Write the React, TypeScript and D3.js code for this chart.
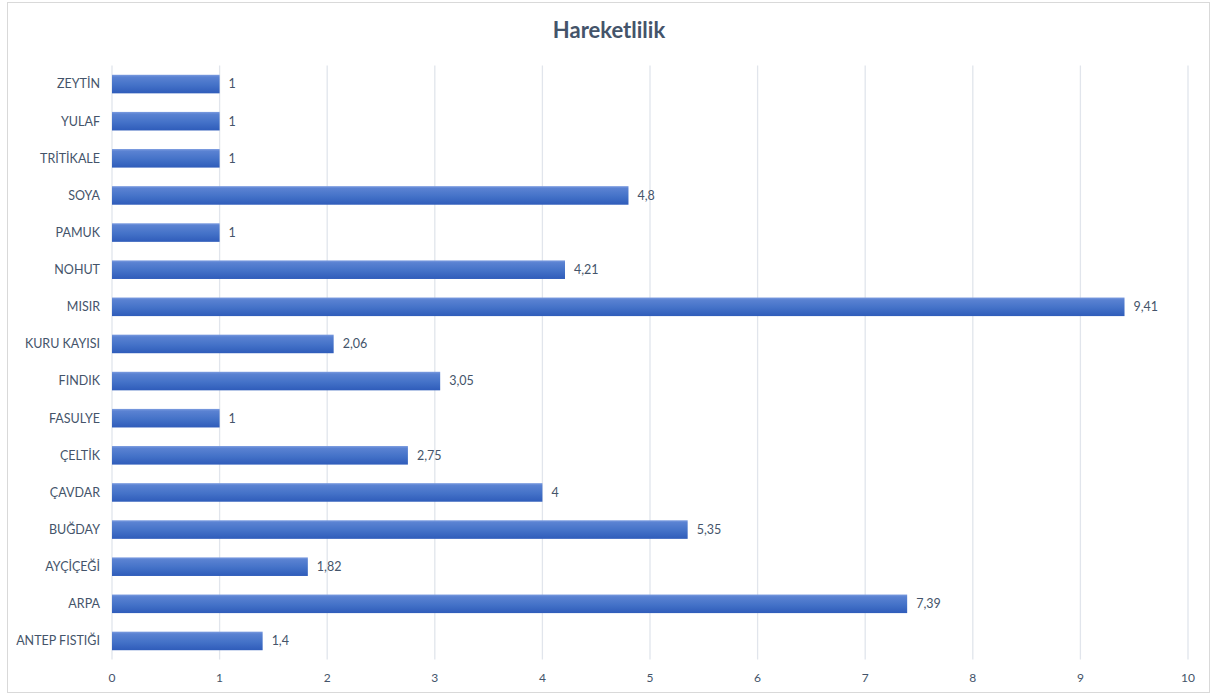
import React from "react";
import * as d3 from "d3";

const categories = [
  "ZEYTİN", "YULAF", "TRİTİKALE", "SOYA", "PAMUK", "NOHUT", "MISIR", "KURU KAYISI",
  "FINDIK", "FASULYE", "ÇELTİK", "ÇAVDAR", "BUĞDAY", "AYÇİÇEĞİ", "ARPA", "ANTEP FISTIĞI",
];
const values = [1, 1, 1, 4.8, 1, 4.21, 9.41, 2.06, 3.05, 1, 2.75, 4, 5.35, 1.82, 7.39, 1.4];
const xTicks = [0, 1, 2, 3, 4, 5, 6, 7, 8, 9, 10];
const title = "Hareketlilik";

const W = 1212;
const H = 698;
const plot = { left: 112, right: 1188, top: 65.5, bottom: 659.5 };
const font = "Lato, 'Open Sans', sans-serif";

export default function App() {
  const x = d3.scaleLinear().domain([0, 10]).range([plot.left, plot.right]);
  const y = d3.scaleBand().domain(categories).range([plot.top, plot.bottom]).paddingInner(0.5).paddingOuter(0.25);
  const fmt = (v: number) => String(v).replace(".", ",");
  return (
    <svg width={W} height={H} style={{ position: "absolute", left: 0, top: 0, background: "#fff" }}>
      <defs>
        <linearGradient id="barGrad" x1="0" y1="0" x2="0" y2="1">
          <stop offset="0" stopColor="#7c9ce0" />
          <stop offset="0.12" stopColor="#5a82d2" />
          <stop offset="0.55" stopColor="#4472c8" />
          <stop offset="1" stopColor="#2f5cba" />
        </linearGradient>
      </defs>
      <rect x={7.5} y={2.5} width={1202} height={690} fill="#fff" stroke="#d9d9d9" strokeWidth={1} />
      <text x={609} y={38} textAnchor="middle" fontFamily={font} fontWeight={700} fontSize={22} fill="#44546a">
        {title}
      </text>
      {xTicks.map((t) => (
        <g key={t}>
          <line x1={x(t)} x2={x(t)} y1={plot.top} y2={plot.bottom} stroke="#e1e5ec" strokeWidth={1.3} />
          <text x={x(t)} y={682} textAnchor="middle" fontFamily={font} fontSize={12} fill="#44546a">
            {t}
          </text>
        </g>
      ))}
      {categories.map((c, i) => {
        const yy = y(c)!;
        const bh = y.bandwidth();
        return (
          <g key={c}>
            <rect x={x(0)} y={yy} width={x(values[i]) - x(0)} height={bh} fill="url(#barGrad)" />
            <text x={100} y={yy + bh / 2} dy="0.35em" textAnchor="end" fontFamily={font} fontSize={12.5} fill="#44546a">
              {c}
            </text>
            <text x={x(values[i]) + 9} y={yy + bh / 2} dy="0.35em" textAnchor="start" fontFamily={font} fontSize={12.5} fill="#44546a">
              {fmt(values[i])}
            </text>
          </g>
        );
      })}
    </svg>
  );
}
